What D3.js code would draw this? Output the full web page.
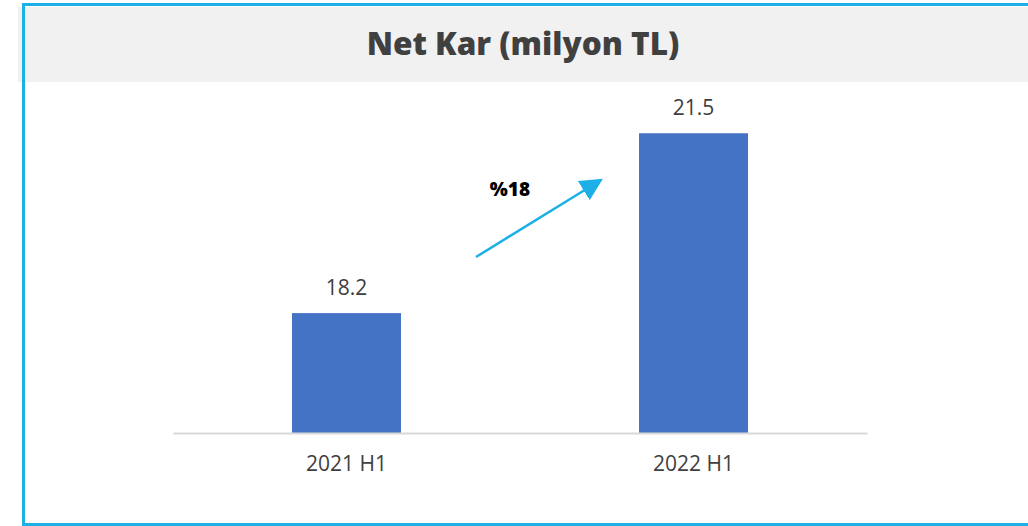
<!DOCTYPE html>
<html>
<head>
<meta charset="utf-8">
<script src="https://cdn.jsdelivr.net/npm/d3@7"></script>
<style>
  body { margin: 0; background: #fff; }
  svg { display: block; }
</style>
</head>
<body>
<script>
var categories = ["2021 H1", "2022 H1"];
var values = [18.2, 21.5];
var growthLabel = "%18";
var title = "Net Kar (milyon TL)";

var width = 1028, height = 526;

var svg = d3.select("body").append("svg")
	.attr("width", width)
	.attr("height", height);

// title band
svg.append("rect")
	.attr("x", 18).attr("y", 7)
	.attr("width", width - 18).attr("height", 75)
	.attr("fill", "#f1f1f2");

// frame lines (top, left, bottom)
svg.append("path")
	.attr("d", "M1028,4.5 H23.5 V524.5 H1028")
	.attr("fill", "none")
	.attr("stroke", "#1cb0e6")
	.attr("stroke-width", 3);

svg.append("text")
	.attr("x", 523).attr("y", 55)
	.attr("text-anchor", "middle")
	.attr("font-family", "Open Sans, sans-serif")
	.attr("font-weight", 800)
	.attr("font-size", 31.5)
	.attr("fill", "#404040")
	.text(title);

var x = d3.scaleBand()
	.domain(categories)
	.range([173, 867])
	.paddingInner(0.686)
	.paddingOuter(0.343);

var y = d3.scaleLinear()
	.domain([16, 22])
	.range([433, 106]);

svg.selectAll(".bar")
	.data(values)
	.enter().append("rect")
	.attr("class", "bar")
	.attr("x", function(d, i) { return x(categories[i]); })
	.attr("width", x.bandwidth())
	.attr("y", function(d) { return y(d); })
	.attr("height", function(d) { return y(16) - y(d); })
	.attr("fill", "#4472c4");

svg.selectAll(".val")
	.data(values)
	.enter().append("text")
	.attr("class", "val")
	.attr("x", function(d, i) { return x(categories[i]) + x.bandwidth() / 2; })
	.attr("y", function(d) { return y(d) - 18; })
	.attr("text-anchor", "middle")
	.attr("font-family", "Open Sans, sans-serif")
	.attr("font-size", 21)
	.attr("fill", "#404040")
	.text(function(d) { return d.toFixed(1); });

var xAxis = svg.append("g")
	.attr("transform", "translate(0," + y(16) + ")")
	.call(d3.axisBottom(x).tickSize(0).tickPadding(23));
xAxis.select(".domain")
	.attr("stroke", "#d9d9d9")
	.attr("stroke-width", 2);
xAxis.selectAll("text")
	.attr("font-family", "Open Sans, sans-serif")
	.attr("font-size", 21)
	.attr("fill", "#404040");

// growth arrow
svg.append("defs").append("marker")
	.attr("id", "head")
	.attr("viewBox", "0 0 10 10")
	.attr("refX", 9).attr("refY", 5)
	.attr("markerWidth", 9).attr("markerHeight", 9)
	.attr("orient", "auto")
	.append("path")
	.attr("d", "M0,0 L10,5 L0,10 Z")
	.attr("fill", "#1cb0e6");

svg.append("line")
	.attr("x1", 476).attr("y1", 257)
	.attr("x2", 601).attr("y2", 180)
	.attr("stroke", "#1cb0e6")
	.attr("stroke-width", 2.5)
	.attr("marker-end", "url(#head)");

svg.append("text")
	.attr("x", 510).attr("y", 196)
	.attr("text-anchor", "middle")
	.attr("font-family", "Open Sans, sans-serif")
	.attr("font-weight", 800)
	.attr("font-size", 19)
	.attr("fill", "#000")
	.text(growthLabel);
</script>
</body>
</html>
